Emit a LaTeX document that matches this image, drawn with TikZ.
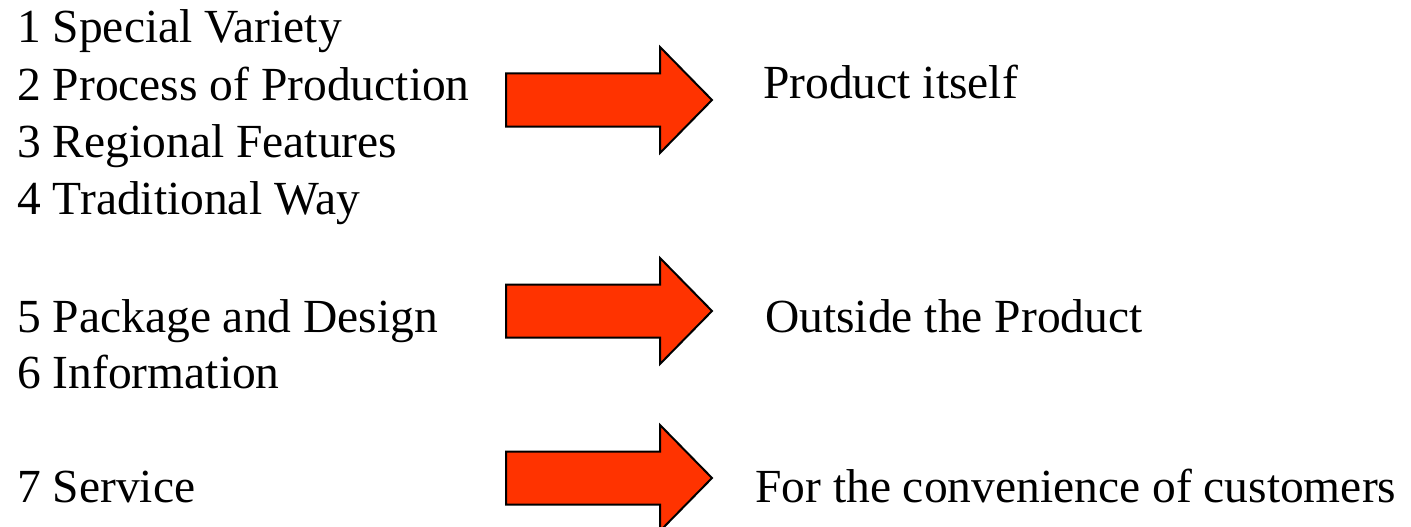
\documentclass[tikz,border=0pt]{standalone}
\usepackage{fontspec}
\setmainfont{Liberation Serif}
\usepackage{tikz}
\definecolor{arrowred}{RGB}{255, 51, 0}

\begin{document}
\begin{tikzpicture}[x=1pt, y=-1pt, font=\fontsize{47.5}{57}\selectfont,
  txt/.style={inner sep=0pt, anchor=base west},
  bigarrow/.style={fill=arrowred, draw=black, line width=2pt, line join=miter}]
  \useasboundingbox (0, 0) rectangle (1411, 527);

  % List of features
  \node [txt] (l1) at (17, 43) {1 Special Variety};
  \node [txt] (l2) at (17, 100) {2 Process of Production};
  \node [txt] (l3) at (17, 157) {3 Regional Features};
  \node [txt] (l4) at (17, 214) {4 Traditional Way};
  \node [txt] (l5) at (17, 332) {5 Package and Design};
  \node [txt] (l6) at (17, 388) {6 Information};
  \node [txt] (l7) at (17, 502) {7 Service};

  % Arrows
  \foreach \y in {100, 311, 478} {
    \draw [bigarrow] (506, \y-26.5) -- (660, \y-26.5) -- (660, \y-53) -- (712, \y)
      -- (660, \y+53) -- (660, \y+26.5) -- (506, \y+26.5) -- cycle;
  }

  % Results
  \node [txt] (r1) at (763, 99) {Product itself};
  \node [txt] (r2) at (765, 332) {Outside the Product};
  \node [txt] (r3) at (755, 502) {For the convenience of customers};
\end{tikzpicture}
\end{document}
